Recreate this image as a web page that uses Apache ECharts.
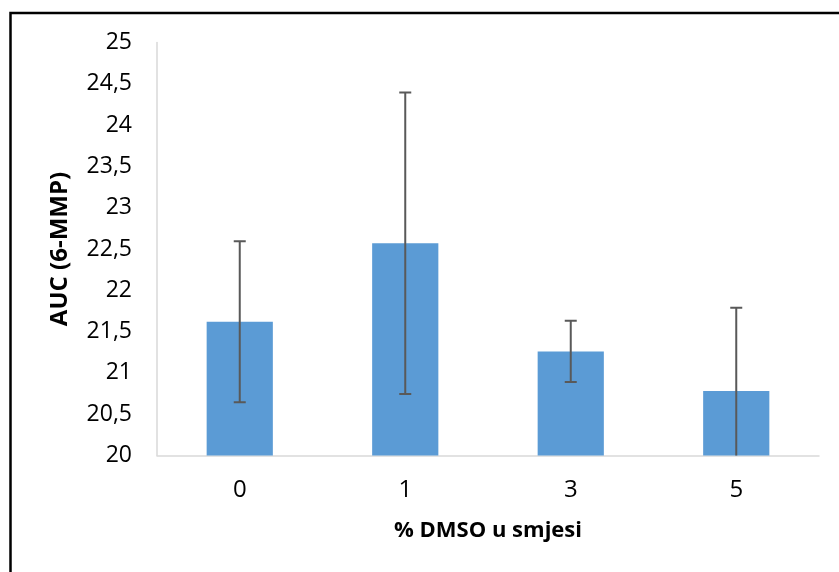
<!DOCTYPE html>
<html>
<head>
<meta charset="utf-8">
<script src="https://cdn.jsdelivr.net/npm/echarts@6/dist/echarts.min.js"></script>
<style>
html,body{margin:0;padding:0;background:#fff;}
#chart{width:839px;height:572px;}
</style>
</head>
<body>
<div id="chart"></div>
<script>
const categories = ['0', '1', '3', '5'];
const values = [21.62, 22.57, 21.26, 20.78];
const errors = [0.975, 1.825, 0.37, 1.01];
const yTicks = { min: 20, max: 25, interval: 0.5 };
const xTitle = '% DMSO u smjesi';
const yTitle = 'AUC (6-MMP)';

const chart = echarts.init(document.getElementById('chart'), null, { renderer: 'canvas' });
const errData = values.map((v, i) => [i, v - errors[i], v + errors[i]]);
const fontFam = '"Open Sans", Lato, sans-serif';

chart.setOption({
  animation: false,
  backgroundColor: '#ffffff',
  graphic: [{
    type: 'rect',
    shape: { x: 10.5, y: 13, width: 900, height: 700 },
    style: { fill: 'none', stroke: '#000000', lineWidth: 2.5 },
    z: 100
  }],
  grid: { left: 157, right: 20, top: 42.5, bottom: 116.5, containLabel: false },
  xAxis: {
    type: 'category',
    data: categories,
    name: xTitle,
    nameLocation: 'middle',
    nameGap: 64,
    nameTextStyle: { fontFamily: fontFam, fontSize: 22, fontWeight: 'bold', color: '#000' },
    axisLine: { lineStyle: { color: '#D9D9D9', width: 1.5 } },
    axisTick: { show: false },
    axisLabel: { fontFamily: fontFam, fontSize: 24, color: '#000', margin: 23 }
  },
  yAxis: {
    type: 'value',
    min: yTicks.min,
    max: yTicks.max,
    interval: yTicks.interval,
    name: yTitle,
    nameLocation: 'middle',
    nameGap: 85,
    nameTextStyle: { fontFamily: fontFam, fontSize: 24, fontWeight: 'bold', color: '#000' },
    axisLine: { show: true, lineStyle: { color: '#D9D9D9', width: 1.5 } },
    axisTick: { show: false },
    splitLine: { show: false },
    axisLabel: {
      fontFamily: fontFam, fontSize: 23, color: '#000', margin: 25,
      formatter: v => String(v).replace('.', ',')
    }
  },
  series: [
    {
      type: 'bar',
      data: values,
      barWidth: '40%',
      itemStyle: { color: '#5B9BD5' }
    },
    {
      type: 'custom',
      data: errData,
      clip: true,
      z: 10,
      renderItem: function (params, api) {
        const x = api.coord([api.value(0), api.value(1)])[0];
        const lo = api.coord([api.value(0), api.value(1)])[1];
        const hi = api.coord([api.value(0), api.value(2)])[1];
        const half = 6;
        const style = { stroke: '#595959', lineWidth: 2 };
        return {
          type: 'group',
          children: [
            { type: 'line', shape: { x1: x, y1: lo, x2: x, y2: hi }, style },
            { type: 'line', shape: { x1: x - half, y1: hi, x2: x + half, y2: hi }, style },
            { type: 'line', shape: { x1: x - half, y1: lo, x2: x + half, y2: lo }, style }
          ]
        };
      }
    }
  ]
});
</script>
</body>
</html>
